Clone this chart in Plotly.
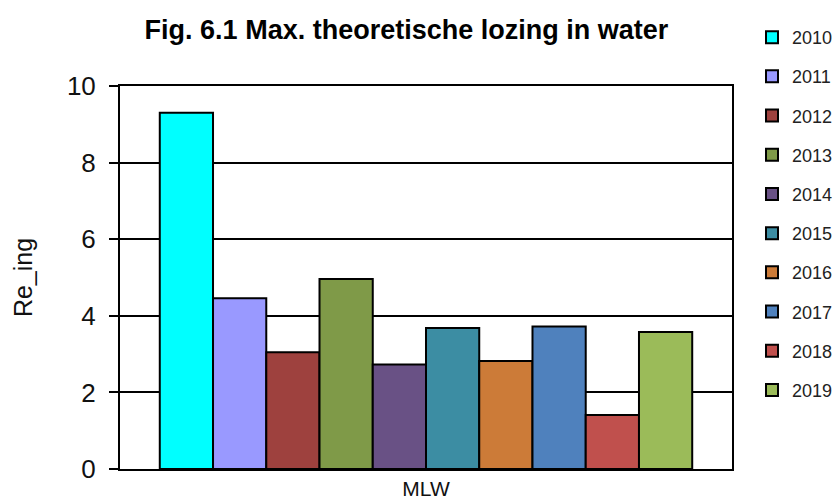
import plotly.graph_objects as go

categories = ["MLW"]
years = ["2010", "2011", "2012", "2013", "2014", "2015", "2016", "2017", "2018", "2019"]
values = [9.3, 4.46, 3.05, 4.96, 2.73, 3.68, 2.82, 3.72, 1.41, 3.58]
colors = ["#00FFFF", "#9999FF", "#9E413E", "#7F9A48", "#695185", "#3C8DA3",
          "#CC7B38", "#4F81BD", "#C0504D", "#9BBB59"]
y_ticks = [0, 2, 4, 6, 8, 10]

fig = go.Figure()
for yr, v, c in zip(years, values, colors):
    fig.add_trace(go.Bar(
        x=categories, y=[v], name=yr, legendgroup=yr,
        marker=dict(color=c, line=dict(color="black", width=2)),
    ))

fig.update_layout(
    width=838, height=499,
    margin=dict(l=120, r=106, t=86, b=30, autoexpand=False),
    paper_bgcolor="white", plot_bgcolor="white",
    barmode="group", bargap=0.13, bargroupgap=0,
    font=dict(family="Liberation Sans, Arial, sans-serif", color="#111"),
    title=dict(text="<b>Fig. 6.1 Max. theoretische lozing in water</b>",
               x=0.485, xanchor="center", y=0.94, yanchor="middle",
               font=dict(size=27, color="black")),
    legend=dict(xref="container", yref="container", x=1.0, xanchor="right",
                y=0.962, yanchor="top",
                font=dict(size=18, color="#222"), tracegroupgap=12.8,
                itemwidth=30, bgcolor="rgba(0,0,0,0)", maxheight=490),
    showlegend=True,
)
fig.update_xaxes(showline=True, linecolor="black", linewidth=2, mirror=True,
                 tickfont=dict(size=21), ticks="", showgrid=False, automargin=False)
fig.update_yaxes(range=[0, 10], tickvals=y_ticks, showline=True, linecolor="black",
                 linewidth=2, mirror=True, ticks="outside", ticklen=9,
                 tickcolor="black", tickwidth=1.5, ticklabelstandoff=8,
                 showgrid=True, gridcolor="black", gridwidth=2,
                 tickfont=dict(size=26), automargin=False,
                 title=dict(text="Re_ing", font=dict(size=25), standoff=27),
                 zeroline=False)

fig.write_html("out.html")
